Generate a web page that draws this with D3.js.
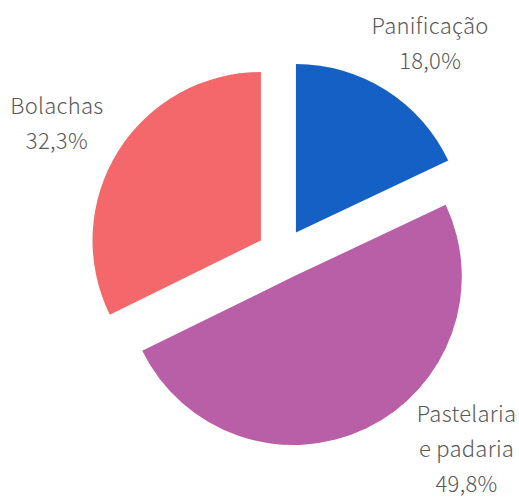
<!DOCTYPE html>
<html>
<head>
<meta charset="utf-8">
<style>
  body { margin: 0; background: #ffffff; }
  text { font-family: "Noto Sans CJK JP", "Noto Sans", sans-serif; }
</style>
</head>
<body>
<div id="chart"></div>
<script src="https://d3js.org/d3.v7.min.js"></script>
<script>
// data
var categories = ["Panificação", "Pastelaria e padaria", "Bolachas"];
var labelLines = [["Panificação"], ["Pastelaria", "e padaria"], ["Bolachas"]];
var values = [18.0, 49.8, 32.3];
var colors = ["#1560c4", "#b85fa7", "#f4676a"];

var width = 519, height = 497;
var cx = 282.4, cy = 253.8;
var radius = 168.4;
var explode = 25.3;

// label placement (angle in degrees, clockwise from top, distance from centre)
var labelAngle = [35.1, 136.8, 300];
var labelDist = [257, 269, 260.4];

var svg = d3.select("#chart")
    .append("svg")
    .attr("width", width)
    .attr("height", height);

var g = svg.append("g")
    .attr("transform", "translate(" + cx + "," + cy + ")");

var pie = d3.pie()
    .sort(null)
    .value(function(d) { return d; });

var arcs = pie(values);

var arc = d3.arc()
    .innerRadius(0)
    .outerRadius(radius);

// slices, each pushed out along its middle angle
g.selectAll("path")
    .data(arcs)
    .enter()
    .append("path")
    .attr("d", arc)
    .attr("fill", function(d, i) { return colors[i]; })
    .attr("transform", function(d) {
        var mid = (d.startAngle + d.endAngle) / 2;
        return "translate(" + (explode * Math.sin(mid)) + "," + (-explode * Math.cos(mid)) + ")";
    });

// labels
var fmt = function(v) { return v.toFixed(1).replace(".", ",") + "%"; };
var lineH = 35;

arcs.forEach(function(d, i) {
    var a = labelAngle[i] * Math.PI / 180;
    var x = labelDist[i] * Math.sin(a);
    var y = -labelDist[i] * Math.cos(a);
    var lines = labelLines[i].concat([fmt(values[i])]);
    var t = g.append("text")
        .attr("text-anchor", "middle")
        .attr("font-size", "22px")
        .attr("font-weight", 300)
        .attr("letter-spacing", "0.3px")
        .attr("fill", "#595959");
    lines.forEach(function(s, k) {
        t.append("tspan")
            .attr("x", x)
            .attr("y", y + (k - (lines.length - 1) / 2) * lineH + 7.5)
            .text(s);
    });
});
</script>
</body>
</html>
